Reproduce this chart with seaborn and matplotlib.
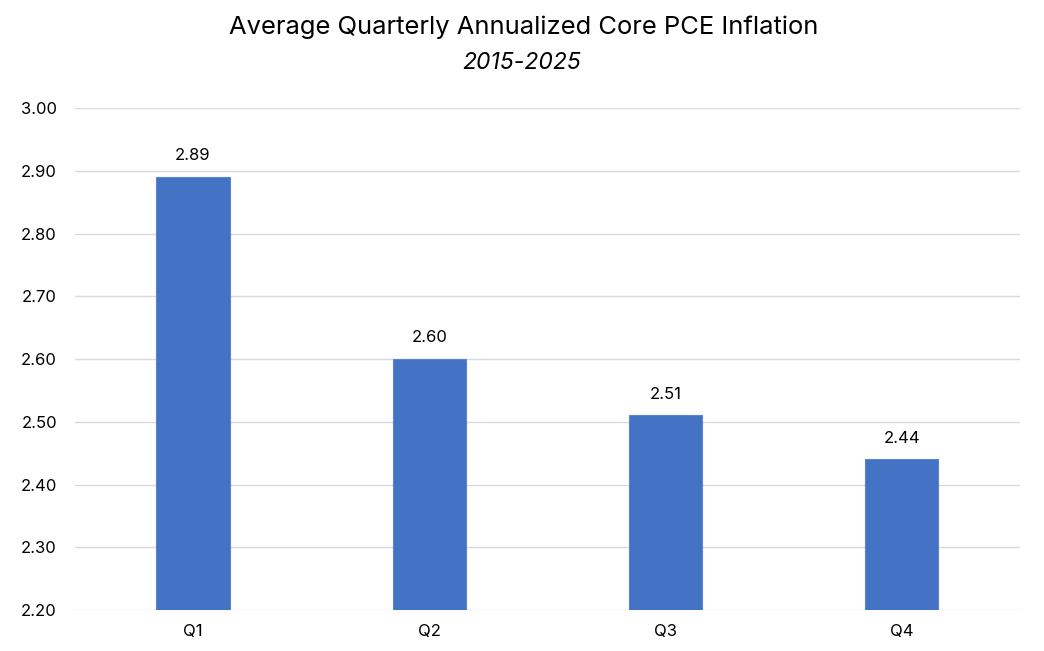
import seaborn as sns
import matplotlib.pyplot as plt
import pandas as pd

quarters = ["Q1", "Q2", "Q3", "Q4"]
pce_values = [2.89, 2.60, 2.51, 2.44]
y_ticks = [2.20, 2.30, 2.40, 2.50, 2.60, 2.70, 2.80, 2.90, 3.00]

df = pd.DataFrame({"quarter": quarters, "value": pce_values})

sns.set_theme(style="white")
plt.rcParams["font.family"] = ["Inter", "DejaVu Sans"]
plt.rcParams["text.color"] = "black"
plt.rcParams["xtick.color"] = "black"
plt.rcParams["ytick.color"] = "black"

fig = plt.figure(figsize=(10.44, 6.51), dpi=100)
ax = fig.add_axes([0.0718, 0.063, 0.905, 0.771])

sns.barplot(data=df, x="quarter", y="value", color="#4472C4", width=0.31,
            edgecolor="#5B85D0", linewidth=0.8, saturation=1, ax=ax)

ax.set_ylim(2.2, 3.0)
ax.set_yticks(y_ticks)
ax.set_yticklabels([f"{t:.2f}" for t in y_ticks], fontsize=12)
ax.tick_params(axis="x", labelsize=12, length=0, pad=10)
ax.tick_params(axis="y", length=0, pad=13)
ax.grid(axis="y", color="#d9d9d9", linewidth=1)
ax.set_axisbelow(True)
for s in ax.spines.values():
    s.set_visible(False)
ax.set_xlabel("")
ax.set_ylabel("")

for i, v in enumerate(pce_values):
    ax.text(i, v + 0.022, f"{v:.2f}", ha="center", va="bottom", fontsize=12)

fig.text(0.5014, 0.958, "Average Quarterly Annualized Core PCE Inflation",
         ha="center", va="center", fontsize=18.4)
fig.text(0.4995, 0.903, "2015-2025", ha="center", va="center",
         fontsize=16.5, style="italic")

fig.savefig("out.png", dpi=100)
